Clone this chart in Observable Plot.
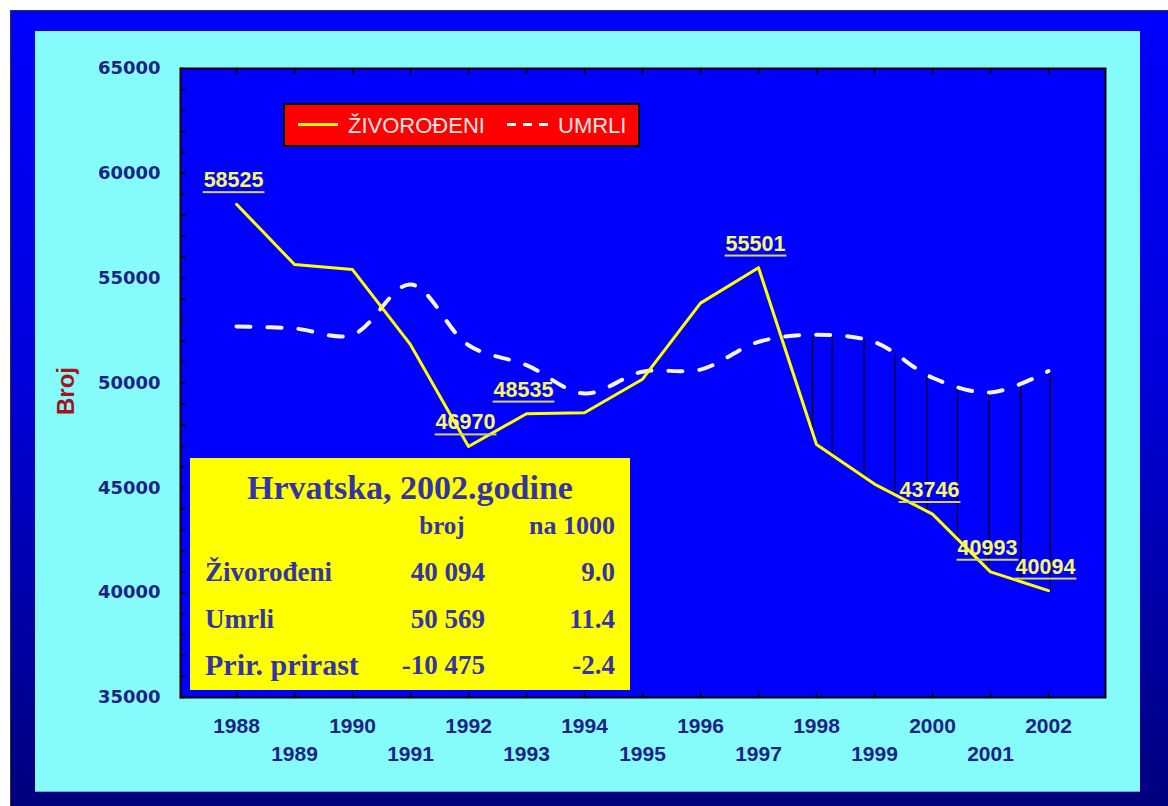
<!DOCTYPE html>
<html><head><meta charset="utf-8">
<script src="https://cdn.jsdelivr.net/npm/d3@7"></script>
<script src="https://cdn.jsdelivr.net/npm/@observablehq/plot@0.6"></script>
<style>
body{margin:0;background:#fff;}
#page{position:relative;width:1168px;height:806px;overflow:hidden;font-family:"Liberation Sans",Arial,sans-serif;}
#outer{position:absolute;left:10px;top:10px;width:1158px;height:800px;background:linear-gradient(#0000ff,#0000dc 45%,#00007c);border-top:1px solid #333;border-left:1px solid #333;box-sizing:border-box;}
#panel{position:absolute;left:35px;top:31px;width:1105px;height:761px;background:#86fbfb;border-bottom:1px solid #5ab0c8;box-sizing:border-box;}
#chart{position:absolute;left:0;top:0;}
#legend{position:absolute;left:283px;top:103px;width:357px;height:44px;background:#ff0000;border:2px solid #000;box-sizing:border-box;}
#legend .sw1{position:absolute;left:13px;top:18px;width:40px;height:3px;background:#ffff00;}
#legend .sw2{position:absolute;left:222px;top:18px;width:42px;height:3px;background:repeating-linear-gradient(90deg,#fff 0 9px,transparent 9px 16px);}
#legend .t{position:absolute;top:0;height:40px;line-height:42px;font-size:22px;color:#f8e6e6;}
#table{position:absolute;left:190px;top:458px;width:440px;height:232px;background:#ffff00;font-family:"Liberation Serif","Times New Roman",serif;font-weight:bold;color:#3434a6;}
#table div{position:absolute;white-space:nowrap;height:30px;line-height:30px;}
</style></head>
<body>
<div id="page">
  <div id="outer"></div>
  <div id="panel"></div>
  <div id="chart"></div>
  <div id="legend"></div>
  <div id="table"></div>
</div>
<script>
// ---- data ----
const years = [1988,1989,1990,1991,1992,1993,1994,1995,1996,1997,1998,1999,2000,2001,2002];
const births = [58525,55651,55409,51829,46970,48535,48584,50182,53811,55501,47068,45179,43746,40993,40094];
const deaths = [52700,52600,52300,54700,51800,50850,49500,50540,50640,51960,52300,51950,50250,49550,50569];
const labelYears = [1988,1992,1993,1997,2000,2001,2002];
const yTicks = [35000,40000,45000,50000,55000,60000,65000];
const gapYears = [1997.93,1998.27,1998.82,1999.36,1999.91,2000.43,2000.97,2001.52,2002.03];
const seriesNames = ["ŽIVOROĐENI","UMRLI"];
const tableTitle = "Hrvatska, 2002.godine";
const tableHeader = ["broj","na 1000"];
const tableRows = ["Živorođeni","Umrli","Prir. prirast"];
const tableCounts = ["40 094","50 569","-10 475"];
const tableRates = ["9.0","11.4","-2.4"];

// ---- derived tables ----
const rows = years.map((year,i)=>({year, births:births[i], deaths:deaths[i]}));
const labelRows = rows.filter(d=>labelYears.includes(d.year));
const at = (arr,t)=>{const i=Math.max(0,Math.min(years.length-2,Math.floor(t-years[0])));const f=t-years[i];return arr[i]+(arr[i+1]-arr[i])*f;};
const gaps = gapYears.map(t=>({x:t, y1:at(deaths,t), y2:at(births,t)}));
const yMinor = d3.range(35000,65001,1000);
const tick = {draw(ctx,l){ctx.moveTo(0,0);ctx.lineTo(0,-l);}};

const plot = Plot.plot({
  width:1168, height:806,
  marginLeft:180, marginRight:63, marginTop:68, marginBottom:109,
  style:{background:"transparent", fontFamily:"Liberation Sans, Arial, sans-serif", overflow:"visible"},
  x:{type:"linear", domain:[1987.034,2002.983]},
  y:{domain:[35000,65000]},
  marks:[
    Plot.frame({fill:"#0000ff"}),
    Plot.ruleX(gaps,{x:"x",y1:"y1",y2:"y2",stroke:"#000",strokeWidth:1.2}),
    Plot.line(rows,{x:"year",y:"deaths",stroke:"#f4f4ff",strokeWidth:4,strokeDasharray:"14,17",curve:"catmull-rom"}),
    Plot.line(rows,{x:"year",y:"births",stroke:"#ffff00",strokeWidth:3}),
    Plot.text(labelRows,{x:"year",y:"births",text:d=>String(d.births),dy:-24,dx:-3,fill:"#f8f860",fontSize:21.5,fontWeight:"bold",ariaDescription:"value-label"}),
    Plot.vector(years,{x:d=>d,frameAnchor:"top",length:5,rotate:180,anchor:"start",shape:tick,stroke:"#000"}),
    Plot.vector(years,{x:d=>d,frameAnchor:"bottom",length:5,rotate:0,anchor:"start",shape:tick,stroke:"#000"}),
    Plot.vector(yMinor,{y:d=>d,frameAnchor:"left",length:4,rotate:90,anchor:"start",shape:tick,stroke:"#000"}),
    Plot.frame({stroke:"#000",strokeWidth:2}),
    Plot.axisY({ticks:yTicks,tickSize:0,tickPadding:20,tickFormat:d=>String(d),fontSize:18,fontWeight:"bold",fontFamily:"DejaVu Sans",color:"#1b2480",label:null}),
    Plot.axisX({ticks:years.filter(y=>y%2===0),tickSize:0,tickPadding:21,tickFormat:d=>String(d),fontSize:21,fontWeight:"bold",color:"#1b2480",label:null}),
    Plot.axisX({ticks:years.filter(y=>y%2===1),tickSize:0,tickPadding:49,tickFormat:d=>String(d),fontSize:21,fontWeight:"bold",color:"#1b2480",label:null}),
    Plot.text(["Broj"],{frameAnchor:"left",dx:-114,dy:32,rotate:-90,fontSize:24,fontWeight:"bold",fill:"#a3141c"})
  ]
});
document.getElementById("chart").appendChild(plot);

// underline the value labels (measured from the rendered text)
const ns = "http://www.w3.org/2000/svg";
const vg = plot.querySelector('g[aria-description="value-label"]');
if (vg) {
  vg.querySelectorAll("text").forEach(t=>{
    const b = t.getBBox();
    const r = document.createElementNS(ns,"rect");
    r.setAttribute("x", b.x - 1);
    r.setAttribute("y", b.y + b.height - 1);
    r.setAttribute("width", b.width + 2);
    r.setAttribute("height", 2);
    r.setAttribute("fill", "#d4d45a");
    const tr = t.getAttribute("transform");
    if (tr) r.setAttribute("transform", tr);
    vg.appendChild(r);
  });
}

// ---- legend ----
const lg = document.getElementById("legend");
lg.innerHTML = `<span class="sw1"></span><span class="t" style="left:63px">${seriesNames[0]}</span><span class="sw2"></span><span class="t" style="left:273px">${seriesNames[1]}</span>`;

// ---- table ----
const tb = document.getElementById("table");
function cell(text, {left=null,right=null,center=null,cy,size}){
  const d=document.createElement("div");
  d.textContent=text;
  d.style.fontSize=size+"px";
  d.style.top=(cy-15)+"px";
  if(left!==null) d.style.left=left+"px";
  if(right!==null) d.style.right=(440-right)+"px";
  if(center!==null){d.style.left=(center-200)+"px";d.style.width="400px";d.style.textAlign="center";}
  tb.appendChild(d);
}
cell(tableTitle,{center:220,cy:30,size:34});
cell(tableHeader[0],{center:252,cy:68,size:25});
cell(tableHeader[1],{right:425,cy:68,size:26});
const cys=[114,161,207];
tableRows.forEach((r,i)=>{
  cell(r,{left:15,cy:cys[i],size:i===2?30:27});
  cell(tableCounts[i],{right:295,cy:cys[i],size:27});
  cell(tableRates[i],{right:425,cy:cys[i],size:27});
});
</script>
</body></html>
